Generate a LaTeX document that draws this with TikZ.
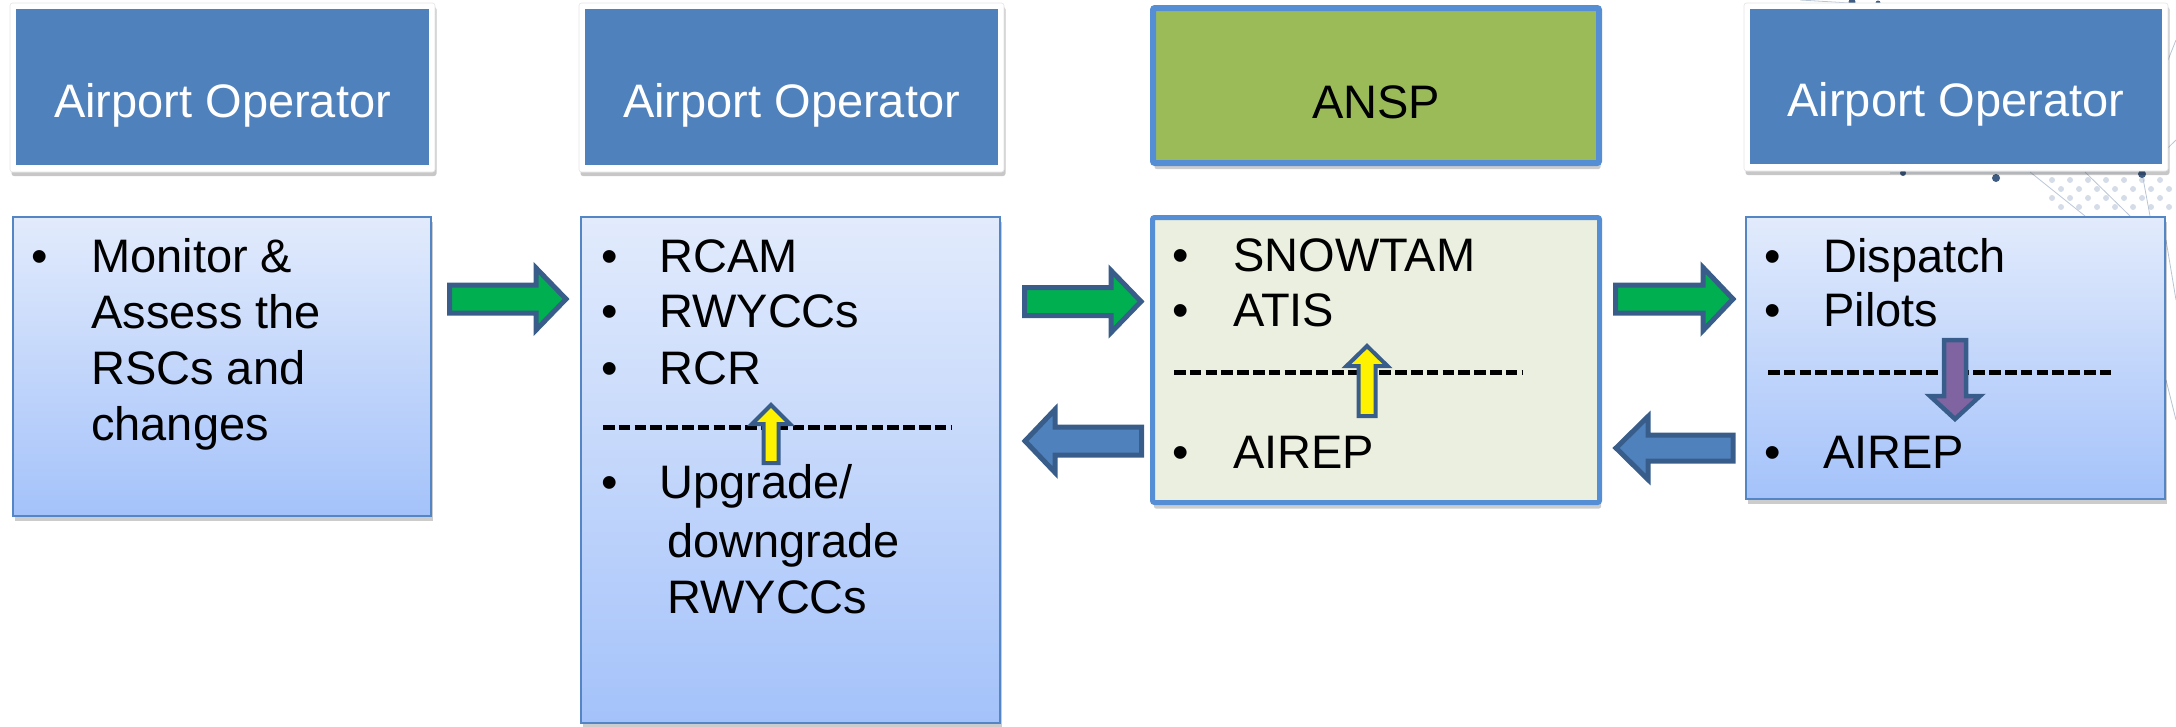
\documentclass[tikz,border=0pt]{standalone}
\usepackage{fontspec}
\setmainfont{Liberation Sans}
\usetikzlibrary{shadows}
\definecolor{hdrblue}{RGB}{79,129,189}
\definecolor{anspgreen}{RGB}{155,187,89}
\definecolor{anspedge}{RGB}{85,142,213}
\definecolor{boxtop}{RGB}{226,235,252}
\definecolor{boxbot}{RGB}{164,194,250}
\definecolor{boxedge}{RGB}{84,134,198}
\definecolor{ansfill}{RGB}{235,239,223}
\definecolor{arredge}{RGB}{56,93,138}
\definecolor{arrgreen}{RGB}{0,176,80}
\definecolor{arrpurple}{RGB}{128,100,162}
\definecolor{netline}{RGB}{185,197,212}
\definecolor{netdot}{RGB}{62,92,132}
\definecolor{netlight}{RGB}{212,220,232}
% horizontal block arrow: style, tail x, head-base x, tip x, centre y, shaft half, head half
\newcommand\hbarrow[7]{\draw[#1] (#2,#5-#6) -- (#3,#5-#6) -- (#3,#5-#7) -- (#4,#5) -- (#3,#5+#7) -- (#3,#5+#6) -- (#2,#5+#6) -- cycle;}
% vertical block arrow: style, tail y, head-base y, tip y, centre x, shaft half, head half
\newcommand\vbarrow[7]{\draw[#1] (#5-#6,#2) -- (#5-#6,#3) -- (#5-#7,#3) -- (#5,#4) -- (#5+#7,#3) -- (#5+#6,#3) -- (#5+#6,#2) -- cycle;}
\begin{document}
\begin{tikzpicture}[x=1pt,y=-1pt,
  shad/.style={drop shadow={shadow xshift=1.5pt,shadow yshift=-5pt,opacity=0.2,fill=black}},
  hdrframe/.style={drop shadow={shadow xshift=1.5pt,shadow yshift=-4pt,opacity=0.22,fill=black},
     fill=white,draw=black!10,line width=0.6pt,rounded corners=2.5pt,minimum width=425pt,minimum height=169pt,inner sep=0pt},
  ansphdr/.style={drop shadow={shadow xshift=1.5pt,shadow yshift=-6pt,opacity=0.2,fill=black},
     draw=anspedge,line width=6pt,fill=anspgreen,rounded corners=2pt,minimum width=446pt,minimum height=155pt,inner sep=0pt},
  cbox/.style={shad,draw=boxedge,line width=2pt,top color=boxtop,bottom color=boxbot,inner sep=0pt},
  abox/.style={drop shadow={shadow xshift=1.5pt,shadow yshift=-6pt,opacity=0.2,fill=black},
     draw=anspedge,line width=5pt,fill=ansfill,rounded corners=2pt,inner sep=0pt},
  hdrtxt/.style={font=\fontsize{47}{56}\selectfont,text=white,anchor=base,inner sep=0pt},
  txt/.style={font=\fontsize{47}{56}\selectfont,anchor=base west,inner sep=0pt},
  bul/.style={font=\fontsize{47}{56}\selectfont,anchor=base,inner sep=0pt},
  sepline/.style={line width=5pt,dash pattern=on 11.5pt off 4.3pt},
  garrow/.style={draw=arredge,line width=5pt,fill=arrgreen,line join=miter},
  barrow/.style={draw=arredge,line width=5pt,fill=hdrblue,line join=miter},
  yarrow/.style={draw=arredge,line width=4pt,fill=yellow,line join=miter},
  parrow/.style={draw=arredge,line width=4.5pt,fill=arrpurple,line join=miter},
  net/.style={draw=netline,line width=0.8pt},
]
\useasboundingbox (0,0) rectangle (2176,726);

% faint network background (top right)
\foreach \xx in {2052,2070,...,2176}{
  \foreach \yy in {180,198}{
    \fill[netlight] (\xx,\yy) circle (3);
    \fill[netlight] (\xx+9,\yy+9) circle (3);
  }
}
\draw[net] (1890,173) -- (2142,173) -- (2176,140);
\draw[net] (2030,172) -- (2085,216);
\draw[net] (2085,172) -- (2130,216);
\draw[net] (2142,173) -- (2150,216);
\draw[net] (2168,60) -- (2176,40);
\draw[net] (2166,240) -- (2176,300);
\draw[net] (2166,380) -- (2176,420);
\draw[net] (1800,0) -- (1900,6);
\fill[netdot] (1996,178) circle (4);
\fill[netdot] (2142,174) circle (4);
\fill[netdot] (1903,173) circle (3);
\fill[netdot] (1852,2) circle (3.5);
\fill[netdot] (1878,3) circle (2.5);

% header boxes (white framed, blue inside)
\node[hdrframe] (h1) at (222.5,87.5) {};
\node[hdrframe] (h2) at (791.5,87.5) {};
\node[hdrframe,minimum width=424pt,minimum height=168pt] (h4) at (1956,87) {};
\foreach \h in {h1,h2,h4}{
  \fill[hdrblue] ([shift={(6.5,6.5)}]\h.north west) rectangle ([shift={(-6.5,-7)}]\h.south east);
}
\node[ansphdr] (h3) at (1376,85.5) {};
\node[hdrtxt] (h1t) at (222.5,117) {Airport Operator};
\node[hdrtxt] (h2t) at (791.5,117) {Airport Operator};
\node[hdrtxt,text=black] (h3t) at (1376,118) {ANSP};
\node[hdrtxt] (h4t) at (1956,116.5) {Airport Operator};

% content boxes
\node[cbox,minimum width=418pt,minimum height=299pt] (c1) at (222,366.5) {};
\node[cbox,minimum width=419pt,minimum height=506pt] (c2) at (790.5,470) {};
\node[abox,minimum width=447pt,minimum height=285pt] (c3) at (1376,360) {};
\node[cbox,minimum width=419pt,minimum height=282pt] (c4) at (1955.5,358) {};

% box 1 text
\node[bul] (b1a) at (40,272) {\textbullet};
\node[txt] (t1a) at (91,272) {Monitor \&};
\node[txt] (t1b) at (91,328) {Assess the};
\node[txt] (t1c) at (91,384) {RSCs and};
\node[txt] (t1d) at (91,440) {changes};

% box 2 text
\node[bul] (b2a) at (610,272) {\textbullet};
\node[bul] (b2b) at (610,327) {\textbullet};
\node[bul] (b2c) at (610,384) {\textbullet};
\node[bul] (b2d) at (610,498) {\textbullet};
\node[txt] (t2a) at (659,272) {RCAM};
\node[txt] (t2b) at (659,327) {RWYCCs};
\node[txt] (t2c) at (659,384) {RCR};
\node[txt] (t2d) at (659,498) {Upgrade/};
\node[txt] (t2e) at (667,557) {downgrade};
\node[txt] (t2f) at (667,613) {RWYCCs};
\coordinate (d2a) at (603,427);
\coordinate (d2b) at (951,427);
\draw[sepline] (d2a) -- (d2b);
\vbarrow{yarrow}{463}{424}{405}{771}{7.5}{19}

% box 3 text
\node[bul] (b3a) at (1181,271) {\textbullet};
\node[bul] (b3b) at (1181,326) {\textbullet};
\node[bul] (b3c) at (1181,468) {\textbullet};
\node[txt] (t3a) at (1233,271) {SNOWTAM};
\node[txt] (t3b) at (1233,326) {ATIS};
\node[txt] (t3c) at (1233,468) {AIREP};
\coordinate (d3a) at (1174,372);
\coordinate (d3b) at (1523,372);
\draw[sepline] (d3a) -- (d3b);
\vbarrow{yarrow}{416}{366}{346}{1367}{8.5}{20.5}

% box 4 text
\node[bul] (b4a) at (1773,272) {\textbullet};
\node[bul] (b4b) at (1773,326) {\textbullet};
\node[bul] (b4c) at (1773,468) {\textbullet};
\node[txt] (t4a) at (1823,272) {Dispatch};
\node[txt] (t4b) at (1823,326) {Pilots};
\node[txt] (t4c) at (1823,468) {AIREP};
\coordinate (d4a) at (1768,372);
\coordinate (d4b) at (2114,372);
\draw[sepline] (d4a) -- (d4b);
\vbarrow{parrow}{340}{396}{419}{1955}{11}{25}

% block arrows between boxes
\hbarrow{garrow}{449.5}{536}{566}{299}{14}{31}
\hbarrow{garrow}{1024.5}{1111}{1141}{301.5}{14}{31}
\hbarrow{barrow}{1141.5}{1055}{1025}{441}{14}{31.5}
\hbarrow{garrow}{1615.5}{1703}{1733}{299}{14}{31.5}
\hbarrow{barrow}{1733}{1648}{1616}{448}{13}{31.5}
\end{tikzpicture}
\end{document}
